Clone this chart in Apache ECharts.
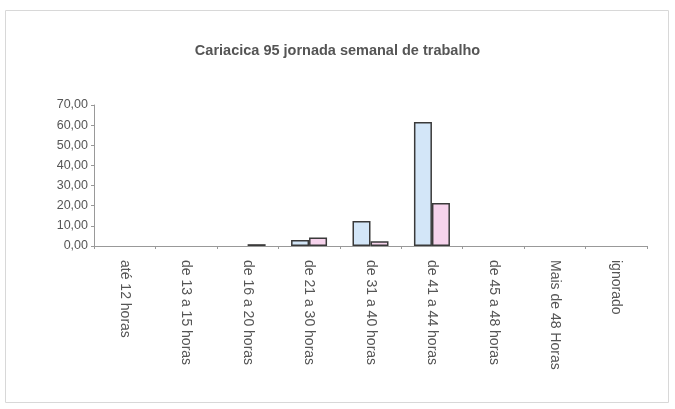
<!DOCTYPE html>
<html><head><meta charset="utf-8">
<script src="https://cdn.jsdelivr.net/npm/echarts@6/dist/echarts.min.js"></script>
<style>html,body{margin:0;padding:0;background:#fff}#c{width:675px;height:409px}</style>
</head><body><div id="c"></div>
<script>
var categories = ['até 12 horas','de 13 a 15 horas','de 16 a 20 horas','de 21 a 30 horas','de 31 a 40 horas','de 41 a 44 horas','de 45 a 48 horas','Mais de 48 Horas','ignorado'];
var seriesA = [0, 0, 0, 3.0, 12.4, 61.6, 0, 0, 0];
var seriesB = [0, 0, 0.9, 4.2, 2.3, 21.3, 0, 0, 0];
var yTicks = {min: 0, max: 70, interval: 10};
var title = 'Cariacica 95 jornada semanal de trabalho';

function hideZero(arr) { return arr.map(function (v) { return v === 0 ? '-' : v; }); }

var chart = echarts.init(document.getElementById('c'));
chart.setOption({
  animation: false,
  graphic: [{type: 'rect', shape: {x: 5.5, y: 10.5, width: 663, height: 392}, style: {fill: 'none', stroke: '#d8d8d8', lineWidth: 1}}],
  title: {text: title, left: 'center', top: 38, textStyle: {fontFamily: 'Liberation Sans', fontSize: 14.5, fontWeight: 'bold', color: '#555'}},
  grid: {left: 94, right: 28, top: 105, bottom: 163},
  xAxis: {
    type: 'category', data: categories,
    axisLine: {lineStyle: {color: '#999'}},
    axisTick: {show: true, lineStyle: {color: '#999'}, length: 3},
    axisLabel: {rotate: -90, interval: 0, fontFamily: 'Liberation Sans', fontSize: 14, color: '#555', margin: 14}
  },
  yAxis: {
    type: 'value', min: yTicks.min, max: yTicks.max, interval: yTicks.interval,
    splitLine: {show: false},
    axisLine: {show: true, lineStyle: {color: '#999'}},
    axisTick: {show: true, lineStyle: {color: '#999'}, length: 3},
    axisLabel: {fontFamily: 'Liberation Sans', fontSize: 12.5, color: '#555', margin: 6,
      formatter: function (v) { return v.toFixed(2).replace('.', ','); }}
  },
  series: [
    {type: 'bar', data: hideZero(seriesA), barWidth: 18, barGap: '0%',
     itemStyle: {color: '#d3e6f8', borderColor: '#3a3a3a', borderWidth: 1.5}},
    {type: 'bar', data: hideZero(seriesB), barWidth: 18,
     itemStyle: {color: '#f6d3ec', borderColor: '#3a3a3a', borderWidth: 1.5}}
  ]
});
</script></body></html>
